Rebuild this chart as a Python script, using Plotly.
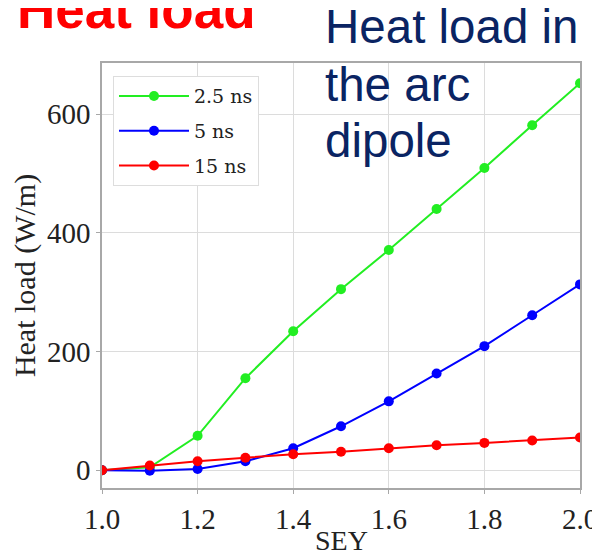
import plotly.graph_objects as go

sey = [1.0, 1.1, 1.2, 1.3, 1.4, 1.5, 1.6, 1.7, 1.8, 1.9, 2.0]
hl_2p5ns = [0, 5, 58, 155, 234, 305, 371, 440, 509, 581, 652]
hl_5ns = [0, -1, 2, 15, 37, 74, 116, 163, 209, 261, 313]
hl_15ns = [0, 8, 15, 21, 27, 31, 37, 42, 46, 50, 55]

series_names = ["2.5 ns", "5 ns", "15 ns"]
series_colors = ["#22ee22", "#0000ff", "#ff0000"]
series_values = [hl_2p5ns, hl_5ns, hl_15ns]

x_ticks = [1.0, 1.2, 1.4, 1.6, 1.8, 2.0]
x_ticklabels = ["1.0", "1.2", "1.4", "1.6", "1.8", "2.0"]
y_ticks = [0, 200, 400, 600]

fig = go.Figure()
for name, color, vals in zip(series_names, series_colors, series_values):
    fig.add_trace(go.Scatter(
        x=sey, y=vals, name=name, mode="lines+markers",
        line=dict(color=color, width=2),
        marker=dict(color=color, size=10),
        legendgroup=name,
    ))

serif = "Liberation Serif"
# page body has an 8px margin, so the layout is shifted up-left by 8px
fig.update_layout(
    width=600, height=557,
    margin=dict(l=94, r=28, t=55, b=77, autoexpand=False),
    plot_bgcolor="white", paper_bgcolor="white",
    showlegend=True,
    legend=dict(
        x=0.023, y=0.969, xanchor="left", yanchor="top",
        bgcolor="white", bordercolor="#dddddd", borderwidth=1,
        font=dict(family="DejaVu Serif", size=19, color="#222222"),
        itemwidth=70, tracegroupgap=7,
    ),
    xaxis=dict(
        range=[1.0, 2.0], tickvals=x_ticks, ticktext=x_ticklabels,
        showgrid=True, gridcolor="#dcdcdc", gridwidth=1,
        showline=True, linecolor="#a8a8a8", linewidth=1.5, mirror=True,
        ticks="outside", ticklen=4, tickcolor="#a8a8a8",
        tickfont=dict(family=serif, size=29, color="#222222"),
        zeroline=False, automargin=False,
    ),
    yaxis=dict(
        range=[-30, 686], tickvals=y_ticks,
        showgrid=True, gridcolor="#dcdcdc", gridwidth=1,
        showline=True, linecolor="#a8a8a8", linewidth=1.5, mirror=True,
        ticks="outside", ticklen=4, tickcolor="#a8a8a8",
        tickfont=dict(family=serif, size=29, color="#222222"),
        title=dict(text="Heat load (W/m)", font=dict(family=serif, size=30, color="#222222"), standoff=6),
        zeroline=False, automargin=False,
    ),
)

# x-axis title
fig.add_annotation(
    text="SEY", xref="paper", yref="paper",
    x=0.5, y=(488 - 540) / 425, xanchor="center", yanchor="middle",
    showarrow=False, font=dict(family=serif, size=28, color="#222222"),
)
fig.add_annotation(
    text="<b>Heat load</b>", xref="paper", yref="paper",
    x=(15 - 102) / 478, y=(488 - 10) / 425, xanchor="left", yanchor="middle",
    showarrow=False, font=dict(family="Liberation Sans", size=53, color="#ff0000"),
)
for txt, py in [("Heat load in", 27), ("the arc", 84), ("dipole", 141)]:
    fig.add_annotation(
        text=txt, xref="paper", yref="paper",
        x=(323 - 102) / 478, y=(488 - py) / 425, xanchor="left", yanchor="middle",
        showarrow=False, font=dict(family="Liberation Sans", size=47.5, color="#0a2463"),
    )

fig.write_html("out.html")
